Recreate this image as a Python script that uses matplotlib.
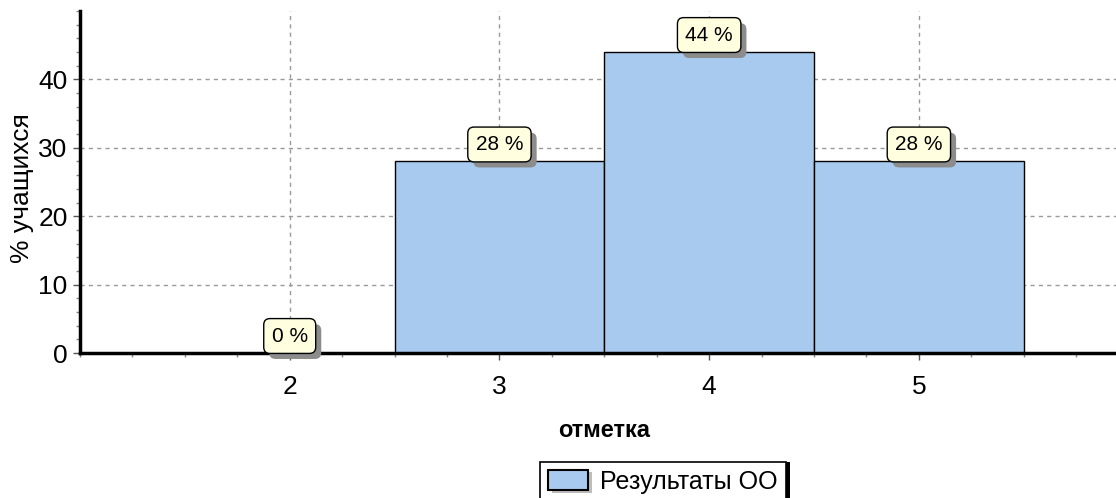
import matplotlib
matplotlib.use("Agg")
import matplotlib.pyplot as plt
from matplotlib import font_manager
from matplotlib.patches import Rectangle
from matplotlib.legend_handler import HandlerBase
from matplotlib.ticker import MultipleLocator
import matplotlib.patheffects as pe

# ---- data ----
categories = [2, 3, 4, 5]
values = [0, 28, 44, 28]
value_labels = ["0 %", "28 %", "44 %", "28 %"]
series_name = "Результаты ОО"
x_label = "отметка"
y_label = "% учащихся"

names = {f.name for f in font_manager.fontManager.ttflist}
FONT = "Liberation Sans Narrow" if "Liberation Sans Narrow" in names else "Liberation Sans"
plt.rcParams["font.family"] = [FONT, "DejaVu Sans"]

BAR_COLOR = "#A7CAEE"
W, H = 1116, 498
fig = plt.figure(figsize=(W / 100, H / 100), dpi=100)
left_px, right_px, top_px, bot_px = 80, 1116 + 12.6, 11, 353
ax = fig.add_axes([left_px / W, 1 - bot_px / H, (right_px - left_px) / W, (bot_px - top_px) / H])

ax.bar(categories, values, width=1.0, color=BAR_COLOR, edgecolor="black", linewidth=1.0, zorder=3)

ax.set_xlim(1, 6)
ax.set_ylim(0, 50)
ax.xaxis.set_major_locator(MultipleLocator(1))
ax.xaxis.set_minor_locator(MultipleLocator(0.25))
ax.yaxis.set_major_locator(MultipleLocator(10))
ax.yaxis.set_minor_locator(MultipleLocator(2))
ax.set_xticks(categories)
ax.set_yticks([0, 10, 20, 30, 40])

ax.set_axisbelow(True)
ax.grid(True, which="major", color="#9A9A9A", linestyle=(0, (3, 3)), linewidth=1.0)

for s in ["top", "right"]:
    ax.spines[s].set_visible(False)
for s in ["left", "bottom"]:
    ax.spines[s].set_linewidth(2.5)
    ax.spines[s].set_zorder(5)

ax.tick_params(axis="both", which="major", length=5, width=1, color="#555555", labelsize=19, pad=4)
ax.tick_params(axis="x", which="major", pad=11)
ax.tick_params(axis="both", which="minor", length=3, width=1, color="#888888")

ax.set_xlabel(x_label, fontsize=17, fontweight="bold", labelpad=14)
ax.set_ylabel(y_label, fontsize=19, va="center")
ax_w_px = right_px - left_px
ax_h_px = bot_px - top_px
ax.yaxis.set_label_coords((22 - left_px) / ax_w_px, (bot_px - 188) / ax_h_px)

# value labels with shadowed rounded boxes
for x, v, lab in zip(categories, values, value_labels):
    t = ax.annotate(lab, xy=(x, v), xytext=(0, 17), textcoords="offset pixels",
                    ha="center", va="center", fontsize=15, color="black", zorder=7,
                    bbox=dict(boxstyle="round,pad=0.38,rounding_size=0.3", facecolor="#FFFFE0",
                              edgecolor="black", linewidth=1.0))
    t.get_bbox_patch().set_path_effects([
        pe.SimplePatchShadow(offset=(4, -4), shadow_rgbFace="#8C8C8C", alpha=1.0),
        pe.Normal()])


class ShadowPatchHandler(HandlerBase):
    def create_artists(self, legend, orig_handle, xdescent, ydescent, width, height, fontsize, trans):
        sh = Rectangle((-xdescent + 3, -ydescent - 2), width, height, facecolor="#BDBDBD",
                       edgecolor="none", transform=trans)
        p = Rectangle((-xdescent, -ydescent), width, height, facecolor=BAR_COLOR,
                      edgecolor="black", linewidth=1.5, transform=trans)
        return [sh, p]


handle = Rectangle((0, 0), 1, 1, facecolor=BAR_COLOR, edgecolor="black")
leg = fig.legend([handle], [series_name], loc="upper center",
                 bbox_to_anchor=(663 / W, 1 - 462 / H), fontsize=18, frameon=True,
                 framealpha=1.0, facecolor="white",
                 fancybox=False, edgecolor="black", handler_map={Rectangle: ShadowPatchHandler()},
                 handlelength=1.6, handleheight=0.9, handletextpad=0.5, borderpad=0.3,
                 borderaxespad=0)
leg.get_frame().set_linewidth(1.2)
leg.get_frame().set_path_effects([
    pe.SimplePatchShadow(offset=(3, 0), shadow_rgbFace="black", alpha=1.0), pe.Normal()])

fig.savefig("out.png", dpi=100)
